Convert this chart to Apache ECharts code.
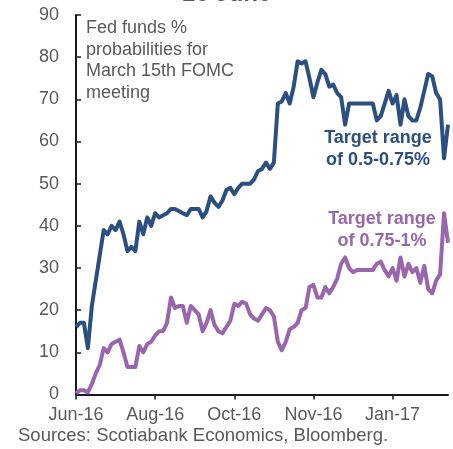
<!DOCTYPE html>
<html>
<head>
<meta charset="utf-8">
<script src="https://cdn.jsdelivr.net/npm/echarts@6/dist/echarts.min.js"></script>
<style>
  html, body { margin: 0; padding: 0; background: #fff; }
  #fed-chart { width: 453px; height: 449px; }
</style>
</head>
<body>
<div id="fed-chart"></div>
<script>
// x axis: one category per observation, a label every 20 points
const tickLabels = ['Jun-16', 'Aug-16', 'Oct-16', 'Nov-16', 'Jan-17'];
const tickStep = 20;

// probability of target range 0.5-0.75%
const range050 = [
  16, 17, 17, 11, 21, 27, 33, 39, 38, 40,
  39, 41, 38, 34, 35, 34, 41, 38, 42, 40,
  43, 42, 42.5, 43, 44, 44, 43.5, 43, 42.5, 44,
  44, 44, 42, 43.5, 47, 45.5, 44.5, 46, 48.5, 49,
  47.5, 49, 50, 50, 50, 51, 53, 53.5, 55, 53.5,
  55, 69, 69.5, 71.5, 69, 73, 79, 78.5, 79, 75,
  70.5, 74, 77, 76, 73, 73.5, 71.5, 70.5, 64, 69,
  69, 69, 69, 69, 69, 69, 65, 66, 69, 72,
  69, 71, 64, 70, 66, 65, 65, 68, 72, 76,
  75.5, 71.5, 70, 56, 64
];

// probability of target range 0.75-1%
const range075 = [
  0.3, 1, 1, 0.5, 2.5, 5, 7, 11, 10, 12,
  12.5, 13, 10, 6.5, 6.5, 6.5, 11.5, 10, 12, 12.5,
  14, 15, 15, 17, 23, 20.5, 21, 21, 17, 21,
  20, 19, 15, 17, 20, 16.5, 15, 14.5, 16, 17.5,
  21.5, 21, 22, 21.5, 19, 18, 17.5, 19, 20.5, 20,
  18.5, 12.5, 10.5, 12.5, 15.5, 16, 17, 20, 20.5, 25.5,
  26, 23, 23, 25.5, 24, 25.5, 27.5, 31, 32.5, 30,
  29, 29.5, 29.5, 29.5, 29.5, 29.5, 31, 31.5, 29.5, 28,
  30, 27, 32.5, 28, 31, 29, 30, 26.5, 30.5, 25,
  24, 27, 28.5, 43, 36
];

const categories = range050.map((v, i) => String(i));

const grey = '#595959';
const blue = '#2b4f80';
const purple = '#9966ae';
const font = '"Liberation Sans", Arial, sans-serif';

// one centred line of bold label text
function labelLine(text, x, y, color) {
  return {
    type: 'text', x: x, y: y,
    style: {
      text: text, align: 'center', verticalAlign: 'middle',
      font: 'bold 18px ' + font, fill: color
    }
  };
}

const chart = echarts.init(document.getElementById('fed-chart'));

const option = {
  animation: false,
  title: {
    text: '16 June',
    left: 'center',
    top: -23,
    textStyle: { fontFamily: font, fontSize: 24, fontWeight: 'bold', color: grey }
  },
  grid: { left: 76, right: 5, top: 15, bottom: 54.5, containLabel: false },
  xAxis: {
    type: 'category',
    data: categories,
    boundaryGap: false,
    axisLine: { lineStyle: { color: '#1a1a1a', width: 2 } },
    axisTick: {
      length: 5,
      lineStyle: { color: '#1a1a1a', width: 1.5 },
      interval: (index) => index % tickStep === 0
    },
    axisLabel: {
      interval: (index) => index % tickStep === 0,
      formatter: (value, index) => tickLabels[index / tickStep] || '',
      margin: 12,
      color: grey,
      fontFamily: font,
      fontSize: 18
    },
    splitLine: { show: false }
  },
  yAxis: {
    type: 'value',
    min: 0,
    max: 90,
    interval: 10,
    axisLine: { show: true, lineStyle: { color: '#1a1a1a', width: 2 } },
    axisTick: { show: true, inside: true, length: 5, lineStyle: { color: '#1a1a1a', width: 1.5 } },
    axisLabel: { margin: 17, color: grey, fontFamily: font, fontSize: 18 },
    splitLine: { show: false }
  },
  graphic: [
    {
      type: 'text', left: 86, top: 17,
      style: {
        text: 'Fed funds %\nprobabilities for\nMarch 15th FOMC\nmeeting',
        font: '18px ' + font, fill: grey, lineHeight: 21.7
      }
    },
    labelLine('Target range', 378, 138, blue),
    labelLine('of 0.5-0.75%', 378, 160, blue),
    labelLine('Target range', 382, 219.5, purple),
    labelLine('of 0.75-1%', 382, 241.5, purple),
    {
      type: 'text', left: 18, top: 426,
      style: {
        text: 'Sources: Scotiabank Economics, Bloomberg.',
        font: '18.5px ' + font, fill: grey
      }
    }
  ],
  series: [
    {
      name: 'Target range of 0.5-0.75%',
      type: 'line',
      data: range050,
      symbol: 'none',
      lineStyle: { color: blue, width: 4, join: 'round' }
    },
    {
      name: 'Target range of 0.75-1%',
      type: 'line',
      data: range075,
      symbol: 'none',
      lineStyle: { color: purple, width: 4, join: 'round' }
    }
  ]
};

chart.setOption(option);
window.addEventListener('resize', () => {
  chart.resize();
});
</script>
</body>
</html>
